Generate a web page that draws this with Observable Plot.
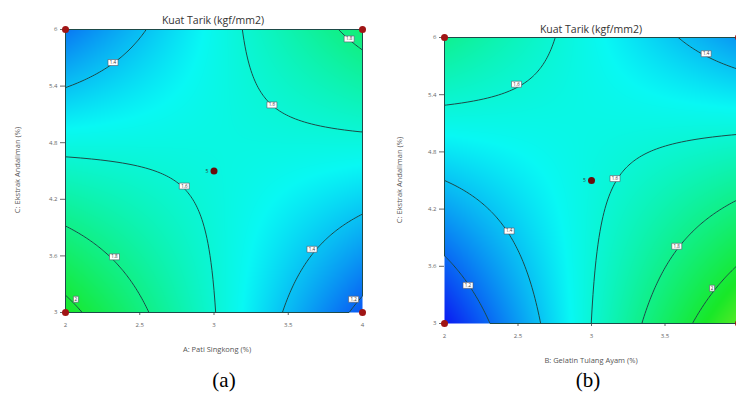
<!DOCTYPE html>
<html><head><meta charset="utf-8">
<script src="https://cdn.jsdelivr.net/npm/d3@7"></script>
<script src="https://cdn.jsdelivr.net/npm/@observablehq/plot@0.6"></script>
<style>
html,body{margin:0;padding:0;width:736px;height:398px;overflow:hidden;background:#fff;}
body{position:relative;font-family:"Open Sans",sans-serif;color:#444;}
.abs{position:absolute;white-space:nowrap;}
.c{transform:translate(-50%,-50%);}
.t{font-size:10.5px;color:#333;}
.al{font-size:7.5px;color:#555;}
.cap{font-family:"Liberation Serif","Times New Roman",serif;font-size:21px;color:#000;}
.rot{transform:translate(-50%,-50%) rotate(-90deg);}
#pa svg,#pb svg{max-width:none !important;}
</style></head><body>
<div id="pa" class="abs" style="left:0;top:0;width:370px"></div>
<div id="pb" class="abs" style="left:370px;top:0;width:380px"></div>
<div id="labels"></div>
<script>
// ---- data ----
const titleText = "Kuat Tarik  (kgf/mm2)";
const xTicksA = [2, 2.5, 3, 3.5, 4];
const xTicksB = [2, 2.5, 3, 3.5];   // the "4" label falls outside the cropped picture
const yTicks = [3, 3.6, 4.2, 4.8, 5.4, 6];
const levels = [1.2, 1.4, 1.6, 1.8, 2];
// quadratic response-surface model terms (coded units)
const modelTerms = ["intercept", "X", "C", "X*C", "X^2", "C^2"];
const coefA = [1.573, -0.068, -0.032, 0.377, 0, 0];   // A: Pati Singkong vs C
const coefB = [1.571, 0.171, -0.030, -0.410, 0, 0];   // B: Gelatin Tulang Ayam vs C
// contour label anchors (panel a)
const labAx = [2.32, 3.39, 3.91, 2.80, 2.33, 2.07, 3.66, 3.94];
const labAy = [5.65, 5.20, 5.90, 4.34, 3.59, 3.14, 3.67, 3.14];
const labAv = [1.4, 1.6, 1.8, 1.6, 1.8, 2, 1.4, 1.2];
// contour label anchors (panel b)
const labBx = [2.49, 3.78, 2.44, 2.16, 3.16, 3.58, 3.82];
const labBy = [5.51, 5.83, 3.97, 3.40, 4.52, 3.81, 3.37];
const labBv = [1.6, 1.4, 1.4, 1.2, 1.6, 1.8, 2];
// design points
const designX = [2, 4, 2, 4];
const designY = [3, 3, 6, 6];
const centerX = [3], centerY = [4.5], centerN = ["5"];
// colour map
const colorDomain = [1.0, 1.52, 2.05, 2.5];
const colorRange = ["#0a10f2", "#08f8f4", "#18e828", "#f0f020"];

function model(coef) {
  return (x, y) => {
    const a = x - 3, c = (y - 4.5) / 1.5;
    const t = [1, a, c, a * c, a * a, c * c];
    return t.reduce((s, v, i) => s + v * coef[i], 0);
  };
}
const boxSym = w => ({draw(ctx) { ctx.rect(-w / 2, -3, w, 6); }});
const fmt = v => String(v);

function panel(coef, lx, ly, lv, xt, o) {
  const f = model(coef);
  const labs = lx.map((x, i) => ({x, y: ly[i], t: fmt(lv[i])}));
  const design = designX.map((x, i) => ({x, y: designY[i]}));
  const center = centerX.map((x, i) => ({x, y: centerY[i], n: centerN[i]}));
  return Plot.plot({
    width: o.width, height: o.height,
    marginLeft: o.ml, marginTop: o.mt, marginRight: o.mr, marginBottom: o.mb,
    style: {fontFamily: "Open Sans", fontSize: "6px", color: "#666", background: "transparent", overflow: "visible", maxWidth: "none"},
    x: {domain: [2, 4], ticks: xt, tickFormat: fmt, label: null, tickSize: 3, tickPadding: 7},
    y: {domain: [3, 6], ticks: yTicks, tickFormat: fmt, label: null, tickSize: 5, tickPadding: 3},
    color: {type: "linear", domain: colorDomain, range: colorRange, interpolate: "rgb"},
    marks: [
      Plot.raster({fill: f, x1: 2, x2: 4, y1: 3, y2: 6, pixelSize: 1}),
      Plot.contour({value: f, x1: 2, x2: 4, y1: 3, y2: 6, thresholds: levels, stroke: "#1d4a48", strokeWidth: 1, fill: "none", pixelSize: 1}),
      Plot.dot(labs.filter(d => d.t.length > 1), {x: "x", y: "y", symbol: boxSym(10), r: 3, fill: "white", stroke: "#556", strokeWidth: 0.6}),
      Plot.dot(labs.filter(d => d.t.length <= 1), {x: "x", y: "y", symbol: boxSym(5), r: 3, fill: "white", stroke: "#556", strokeWidth: 0.6}),
      Plot.text(labs, {x: "x", y: "y", text: "t", fontSize: 4.5, fill: "#333"}),
      Plot.dot(design, {x: "x", y: "y", r: 3.5, fill: "#a01515"}),
      Plot.dot(center, {x: "x", y: "y", r: 3.5, fill: "#6a0d0d"}),
      Plot.text(center, {x: "x", y: "y", text: "n", dx: -7, fontSize: 5, fill: "#333"})
    ]
  });
}

document.getElementById("pa").append(panel(coefA, labAx, labAy, labAv, xTicksA,
  {width: 370, height: 352, ml: 65, mt: 29, mr: 8, mb: 40}));
document.getElementById("pb").append(panel(coefB, labBx, labBy, labBv, xTicksB,
  {width: 380, height: 362, ml: 74, mt: 37, mr: 12, mb: 39}));

const texts = [
  {t: titleText, x: 213, y: 20, cls: "t c"},
  {t: titleText, x: 591, y: 29, cls: "t c"},
  {t: "A: Pati Singkong (%)", x: 217, y: 349, cls: "al c"},
  {t: "B: Gelatin Tulang Ayam (%)", x: 591, y: 360, cls: "al c"},
  {t: "C: Ekstrak Andaliman (%)", x: 17, y: 170, cls: "al rot"},
  {t: "C: Ekstrak Andaliman (%)", x: 399, y: 180, cls: "al rot"},
  {t: "(a)", x: 224, y: 380, cls: "cap c"},
  {t: "(b)", x: 588, y: 380, cls: "cap c"}
];
const L = document.getElementById("labels");
for (const d of texts) {
  const el = document.createElement("div");
  el.className = "abs " + d.cls;
  el.style.left = d.x + "px"; el.style.top = d.y + "px";
  el.textContent = d.t;
  L.append(el);
}
</script>
</body></html>
